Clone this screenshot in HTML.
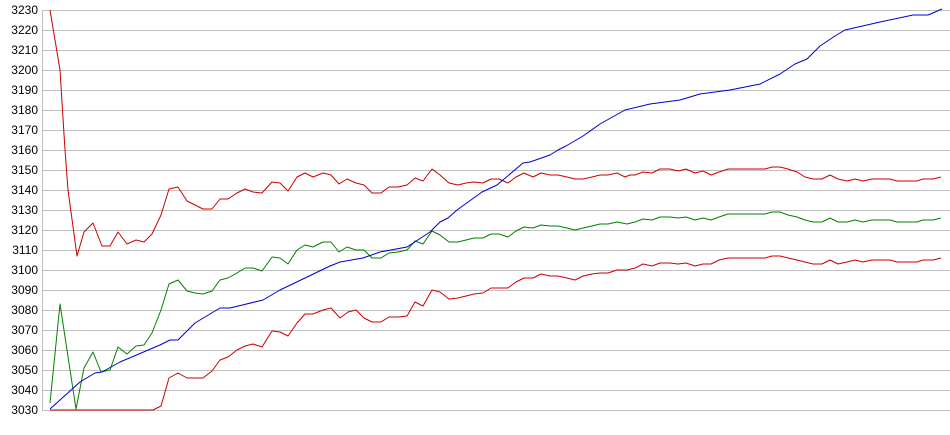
<!DOCTYPE html>
<html><head><style>
html,body{margin:0;padding:0;background:#fff;}
svg{display:block;}
text{font-family:"Liberation Sans",Arial,sans-serif;font-size:12px;fill:#000;}
</style></head><body>
<svg width="950" height="435" xmlns="http://www.w3.org/2000/svg">
<g stroke="#c0c0c0" stroke-width="1" shape-rendering="crispEdges">
<line x1="42" y1="10.5" x2="950" y2="10.5"/><line x1="42" y1="30.5" x2="950" y2="30.5"/>
<line x1="42" y1="50.5" x2="950" y2="50.5"/><line x1="42" y1="70.5" x2="950" y2="70.5"/>
<line x1="42" y1="90.5" x2="950" y2="90.5"/><line x1="42" y1="110.5" x2="950" y2="110.5"/>
<line x1="42" y1="130.5" x2="950" y2="130.5"/><line x1="42" y1="150.5" x2="950" y2="150.5"/>
<line x1="42" y1="170.5" x2="950" y2="170.5"/><line x1="42" y1="190.5" x2="950" y2="190.5"/>
<line x1="42" y1="210.5" x2="950" y2="210.5"/><line x1="42" y1="230.5" x2="950" y2="230.5"/>
<line x1="42" y1="250.5" x2="950" y2="250.5"/><line x1="42" y1="270.5" x2="950" y2="270.5"/>
<line x1="42" y1="290.5" x2="950" y2="290.5"/><line x1="42" y1="310.5" x2="950" y2="310.5"/>
<line x1="42" y1="330.5" x2="950" y2="330.5"/><line x1="42" y1="350.5" x2="950" y2="350.5"/>
<line x1="42" y1="370.5" x2="950" y2="370.5"/><line x1="42" y1="390.5" x2="950" y2="390.5"/>
<line x1="42" y1="410.5" x2="950" y2="410.5"/>
<line x1="42.5" y1="10" x2="42.5" y2="411"/>
</g>
<g text-anchor="end">
<text x="38" y="14">3230</text><text x="38" y="34">3220</text><text x="38" y="54">3210</text>
<text x="38" y="74">3200</text><text x="38" y="94">3190</text><text x="38" y="114">3180</text>
<text x="38" y="134">3170</text><text x="38" y="154">3160</text><text x="38" y="174">3150</text>
<text x="38" y="194">3140</text><text x="38" y="214">3130</text><text x="38" y="234">3120</text>
<text x="38" y="254">3110</text><text x="38" y="274">3100</text><text x="38" y="294">3090</text>
<text x="38" y="314">3080</text><text x="38" y="334">3070</text><text x="38" y="354">3060</text>
<text x="38" y="374">3050</text><text x="38" y="394">3040</text><text x="38" y="414">3030</text>
</g>
<g fill="none" stroke-width="1" stroke-linejoin="round">
<polyline stroke="#cc0000" points="50,10 60,70 65,150 68,190 77,256 84,232 93,223 102,246 110,246 118,232 127,244 136,240 144,242 152,234 161,215 169,189 178,187 187,201 195,205 203,209 212,209 220,199 228,199 237,193 245,189 253,192 262,193 272,182 280,183 288,191 297,177 305,173 313,177 323,173 331,175 339,184 347,179 356,183 364,185 372,193 381,193 389,187 398,187 407,185 415,178 423,181 432,169 440,175 449,183 458,185 466,183 474,182 483,183 491,179 499,179 508,183 516,177 524,173 533,177 541,173 550,175 558,175 567,177 575,179 583,179 592,177 600,175 608,175 617,173 625,177 630,175 635,175 643,172 652,173 660,169 670,169 678,171 686,169 695,173 703,171 711,175 719,172 728,169 765,169 772,167 780,167 788,169 797,172 805,177 813,179 822,179 830,175 838,179 847,181 855,179 863,181 872,179 890,179 897,181 917,181 923,179 933,179 941,177"/>
<polyline stroke="#008000" points="50,403 60,304 76,409 84,368 93,352 101,372 110,370 118,347 127,354 136,346 144,345 152,333 161,310 169,284 178,280 187,291 195,293 203,294 212,291 220,280 228,278 237,273 245,268 253,268 262,271 272,257 280,258 288,264 297,250 305,245 313,247 323,242 331,242 339,252 347,247 356,250 364,250 372,258 381,258 389,253 398,252 407,250 415,241 423,244 432,231 440,235 449,242 458,242 466,240 474,238 483,238 491,234 499,234 508,237 516,231 524,227 533,228 541,225 550,226 558,226 567,228 575,230 583,228 592,226 600,224 608,224 617,222 627,224 635,222 643,219 652,220 660,217 670,217 678,218 686,217 695,220 703,218 711,220 719,217 728,214 765,214 772,212 780,212 788,215 797,217 805,220 813,222 822,222 830,218 838,222 847,222 855,220 863,222 872,220 890,220 897,222 917,222 923,220 933,220 941,218"/>
<polyline stroke="#cc0000" points="50,410 153,410 161,406 169,378 178,373 187,378 203,378 212,371 220,360 228,357 237,350 245,346 253,344 262,347 272,331 280,332 288,336 297,323 305,314 313,314 323,310 331,308 340,318 348,312 356,310 364,318 372,322 381,322 389,317 398,317 407,316 415,302 423,306 432,290 440,292 449,299 458,298 474,294 483,293 491,288 508,288 516,282 524,278 533,278 541,274 550,276 558,276 567,278 575,280 583,276 592,274 600,273 608,273 617,270 627,270 635,268 643,264 652,266 660,263 670,263 678,264 686,263 695,266 703,264 711,264 719,260 728,258 765,258 772,256 780,256 788,258 797,260 805,262 813,264 822,264 830,260 838,264 847,262 855,260 863,262 872,260 890,260 897,262 917,262 923,260 933,260 941,258"/>
<polyline stroke="#0000cc" points="50,409 80,382 95,373 102,372 120,362 160,345 170,340 178,340 195,323 220,308 230,308 263,300 280,290 330,266 340,262 363,258 380,252 407,247 430,232 440,222 448,218 457,210 482,192 497,185 523,163 530,162 550,155 558,150 566,146 583,136 600,124 625,110 650,104 680,100 700,94 730,90 760,84 780,74 795,64 807,59 820,46 835,36 845,30 880,22 913,15 928,15 942,9"/>
</g>
</svg>
</body></html>
